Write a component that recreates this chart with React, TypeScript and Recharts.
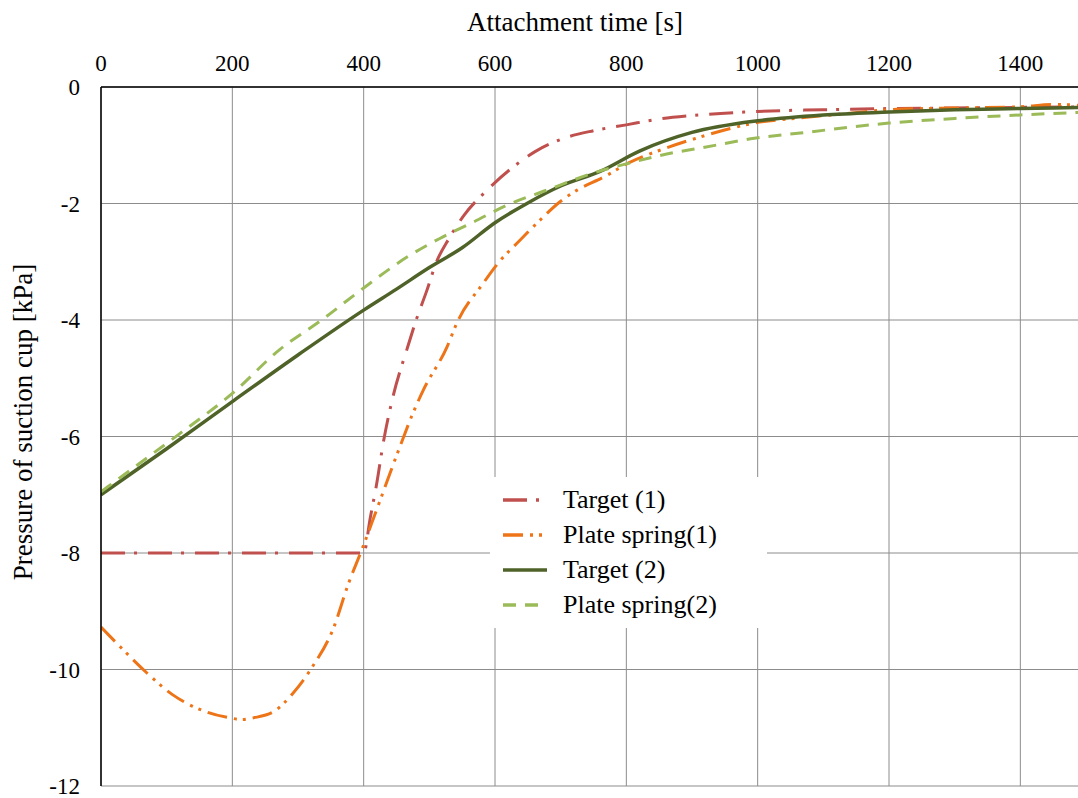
import { CartesianGrid, Label, Legend, Line, LineChart, XAxis, YAxis } from "recharts";

const FONT = "Liberation Serif, Tinos, Times New Roman, DejaVu Serif, serif";

// time axis [s] and pressure axis [kPa]
const timeTicks = [0, 200, 400, 600, 800, 1000, 1200, 1400];
const pressureTicks = [-12, -10, -8, -6, -4, -2, 0];

const target1Time = [0, 100, 200, 300, 400, 410, 420, 430, 445, 466, 480, 496, 511, 530, 553, 588, 628, 661, 700, 750, 800, 850, 900, 1000, 1100, 1200, 1300, 1400, 1500];
const target1Pressure = [-8, -8, -8, -8, -8, -7.4, -6.8, -6.1, -5.3, -4.5, -4.0, -3.5, -3.0, -2.6, -2.2, -1.77, -1.37, -1.11, -0.9, -0.75, -0.65, -0.55, -0.49, -0.42, -0.39, -0.37, -0.36, -0.35, -0.34];

const spring1Time = [0, 24, 70, 110, 161, 196, 215, 232, 262, 293, 321, 354, 377, 397, 420, 455, 475, 491, 527, 542, 582, 605, 638, 669, 699, 725, 765, 806, 860, 912, 963, 995, 1065, 1141, 1200, 1300, 1400, 1450, 1500];
const spring1Pressure = [-9.27, -9.55, -10.06, -10.44, -10.73, -10.83, -10.86, -10.83, -10.73, -10.4, -9.97, -9.29, -8.52, -7.95, -7.25, -6.18, -5.6, -5.2, -4.46, -4.05, -3.37, -3.02, -2.63, -2.28, -1.97, -1.77, -1.55, -1.29, -1.05, -0.86, -0.7, -0.62, -0.53, -0.45, -0.39, -0.36, -0.34, -0.3, -0.32];

const target2Time = [0, 100, 200, 300, 400, 450, 500, 550, 600, 650, 700, 760, 820, 900, 1000, 1100, 1200, 1300, 1400, 1500];
const target2Pressure = [-7.0, -6.21, -5.4, -4.6, -3.83, -3.47, -3.1, -2.76, -2.33, -1.99, -1.7, -1.45, -1.1, -0.78, -0.58, -0.48, -0.43, -0.39, -0.37, -0.35];

const spring2Time = [0, 60, 120, 200, 273, 336, 400, 466, 516, 567, 618, 679, 749, 810, 871, 912, 995, 1065, 1200, 1300, 1400, 1500];
const spring2Pressure = [-6.95, -6.45, -5.95, -5.26, -4.5, -4.0, -3.45, -2.92, -2.6, -2.32, -2.03, -1.77, -1.48, -1.29, -1.13, -1.05, -0.88, -0.79, -0.62, -0.54, -0.48, -0.43];

const toPoints = (t: number[], p: number[]) => t.map((x, i) => ({ t: x, p: p[i] }));

const series = [
  { name: "Target (1)", data: toPoints(target1Time, target1Pressure), color: "#C0504D", dash: "24 9 3 11", width: 3 },
  { name: "Plate spring(1)", data: toPoints(spring1Time, spring1Pressure), color: "#EE7418", dash: "20 7 3 6 3 7", width: 3 },
  { name: "Target (2)", data: toPoints(target2Time, target2Pressure), color: "#4F6228", dash: undefined, width: 3.5 },
  { name: "Plate spring(2)", data: toPoints(spring2Time, spring2Pressure), color: "#9BBB59", dash: "13 9", width: 3 },
];

function renderLegend() {
  return (
    <div style={{ background: "#fff", width: 277, height: 151, paddingTop: 5, boxSizing: "border-box" }}>
      {series.map((s) => (
        <div key={s.name} style={{ display: "flex", alignItems: "center", height: 35 }}>
          <svg width={70} height={12} style={{ marginLeft: 13 }}>
            <line x1={0} y1={6} x2={44} y2={6} stroke={s.color} strokeWidth={3.5} strokeDasharray={s.dash} />
          </svg>
          <span style={{ fontFamily: FONT, fontSize: 26, color: "#000", marginLeft: -10 }}>{s.name}</span>
        </div>
      ))}
    </div>
  );
}

export default function App() {
  return (
    <div style={{ position: "absolute", left: 0, top: 0, width: 1078, height: 798, overflow: "hidden", background: "#fff" }}>
      <LineChart width={1101} height={798} margin={{ top: 0, right: 15, bottom: 12, left: 0 }}>
        <CartesianGrid stroke="#8c8c8c" strokeWidth={1} />
        <XAxis
          type="number"
          dataKey="t"
          orientation="top"
          domain={[0, 1500]}
          ticks={timeTicks}
          interval={0}
          height={87}
          allowDataOverflow
          axisLine={{ stroke: "#000", strokeWidth: 1.5 }}
          tickLine={false}
          tickSize={0}
          tickMargin={16}
          tick={{ fontSize: 23, fill: "#000", fontFamily: FONT }}
        >
          <Label
            content={() => (
              <text x={575} y={31} textAnchor="middle" fontSize={27} fontFamily={FONT} fill="#000">
                Attachment time [s]
              </text>
            )}
          />
        </XAxis>
        <YAxis
          type="number"
          domain={[-12, 0]}
          ticks={pressureTicks}
          interval={0}
          width={101}
          allowDataOverflow
          axisLine={{ stroke: "#000", strokeWidth: 1.5 }}
          tickLine={false}
          tickSize={0}
          tickMargin={21}
          tick={{ fontSize: 23, fill: "#000", fontFamily: FONT }}
        >
          <Label
            content={() => (
              <text x={32} y={422} transform="rotate(-90 32 422)" textAnchor="middle" fontSize={27} fontFamily={FONT} fill="#000">
                Pressure of suction cup [kPa]
              </text>
            )}
          />
        </YAxis>
        {series.map((s) => (
          <Line
            key={s.name}
            name={s.name}
            data={s.data}
            dataKey="p"
            type="monotone"
            stroke={s.color}
            strokeWidth={s.width}
            strokeDasharray={s.dash}
            dot={false}
            activeDot={false}
            isAnimationActive={false}
          />
        ))}
        <Legend
          layout="vertical"
          align="center"
          verticalAlign="middle"
          content={renderLegend}
          wrapperStyle={{ left: 490, top: 477, width: 277, height: 151 }}
        />
      </LineChart>
    </div>
  );
}
